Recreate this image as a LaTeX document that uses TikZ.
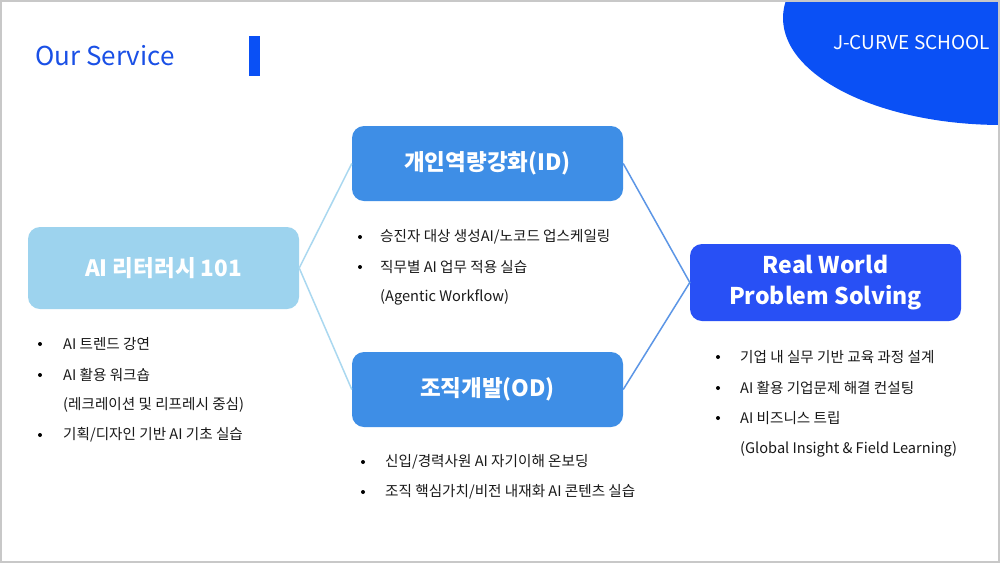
\documentclass[tikz,border=0pt]{standalone}
\usepackage{fontspec}
\setmainfont{Noto Sans CJK KR}
\usepackage{tikz}

\definecolor{jcurve}{RGB}{10,80,245}
\definecolor{titleblue}{RGB}{26,80,230}
\definecolor{litblue}{RGB}{157,211,238}
\definecolor{midblue}{RGB}{62,142,230}
\definecolor{rwblue}{RGB}{40,80,245}
\definecolor{linkleft}{RGB}{170,216,240}
\definecolor{linkright}{RGB}{92,150,230}
\definecolor{frame}{RGB}{200,200,200}
\definecolor{body}{RGB}{25,25,25}

\tikzset{
  box/.style={rounded corners=12pt, minimum width=271pt, inner sep=0pt,
    text=white, align=center, font=\fontsize{22.5}{27}\selectfont\bfseries},
  item/.style={anchor=west, inner sep=0pt, text=body,
    font=\fontsize{14.6}{17}\selectfont},
  dot/.style={fill=black}
}

\begin{document}
\begin{tikzpicture}[x=1pt,y=-1pt]
    \useasboundingbox (0,0) rectangle (1000,563);
    \fill[white] (0,0) rectangle (1000,563);
    % corner badge
    \begin{scope}
      \clip (0,0) rectangle (1000,563);
      \fill[jcurve] (1002,18) ellipse[x radius=219pt, y radius=107pt];
    \end{scope}
    \node[anchor=east, text=white, inner sep=0pt,
      font=\fontsize{19}{23}\selectfont] (school) at (990,43) {J-CURVE SCHOOL};
    \node[anchor=west, text=titleblue, inner sep=0pt,
      font=\fontsize{26}{31}\selectfont] (title) at (35,56) {Our Service};
    \fill[jcurve] (249,36) rectangle (260,76);

    % boxes
    \node[box, fill=litblue, minimum height=82pt] (ai) at (163.5,268) {AI 리터러시 101};
    \node[box, fill=midblue, minimum height=75pt] (id) at (487.5,163.5) {개인역량강화(ID)};
    \node[box, fill=midblue, minimum height=75pt] (od) at (487.5,389.5) {조직개발(OD)};
    \node[box, fill=rwblue, minimum height=77pt,
      font=\fontsize{23}{31}\selectfont\bfseries] (rw) at (825.5,282.5) {Real World\\Problem Solving};

    \draw[linkleft, line width=1.5pt]
      (id.west) -- (ai.east) -- (od.west);
    \draw[linkright, line width=1.5pt]
      (id.east) -- (rw.west) -- (od.east);

    % lists
    \node[item] (ai1) at (63,344) {AI 트렌드 강연};
    \node[item] (ai2) at (63,375) {AI 활용 워크숍};
    \node[item] (ai3) at (63,405) {(레크레이션 및 리프레시 중심)};
    \node[item] (ai4) at (63,435) {기획/디자인 기반 AI 기초 실습};
    \fill[dot] (40,344) circle(2pt) (40,375) circle(2pt) (40,435) circle(2pt);

    \node[item] (id1) at (380,237) {승진자 대상 생성AI/노코드 업스케일링};
    \node[item] (id2) at (380,267) {직무별 AI 업무 적용 실습};
    \node[item] (id3) at (380,297) {(Agentic Workflow)};
    \fill[dot] (360,237) circle(2pt) (360,267) circle(2pt);

    \node[item] (od1) at (385,462) {신입/경력사원 AI 자기이해 온보딩};
    \node[item] (od2) at (385,492) {조직 핵심가치/비전 내재화 AI 콘텐츠 실습};
    \fill[dot] (363,462) circle(2pt) (363,492) circle(2pt);

    \node[item] (rw1) at (740,357) {기업 내 실무 기반 교육 과정 설계};
    \node[item] (rw2) at (740,388) {AI 활용 기업문제 해결 컨설팅};
    \node[item] (rw3) at (740,418) {AI 비즈니스 트립};
    \node[item] (rw4) at (740,449) {(Global Insight \& Field Learning)};
    \fill[dot] (718,357) circle(2pt) (718,388) circle(2pt) (718,418) circle(2pt);

    \draw[frame, line width=2pt] (1,1) rectangle (999,562);
  \end{tikzpicture}
\end{document}
